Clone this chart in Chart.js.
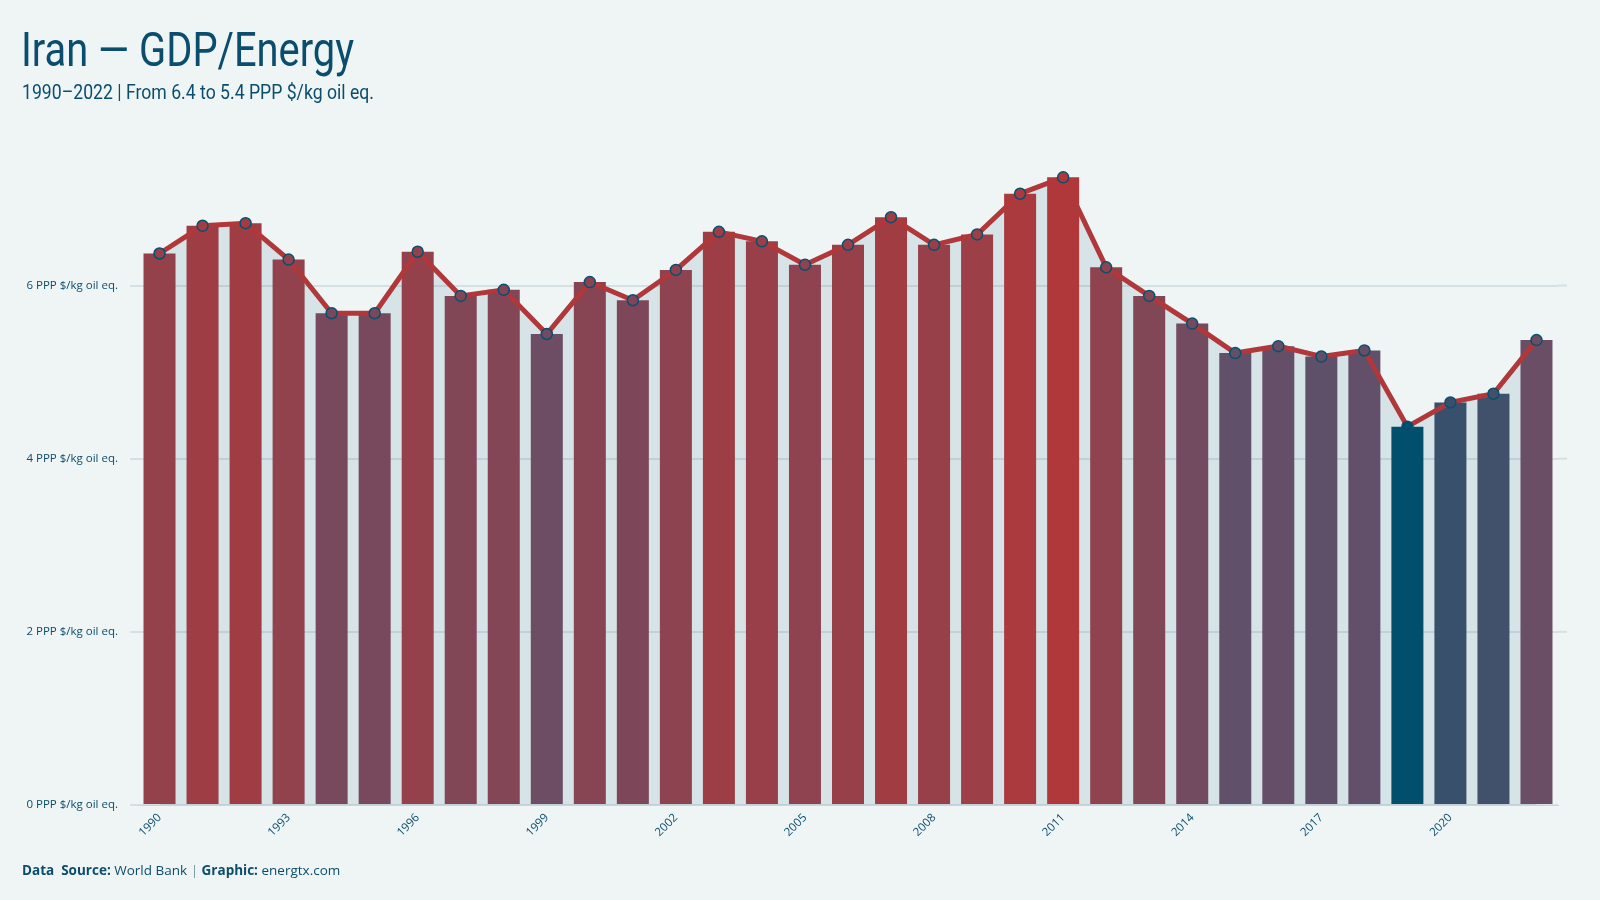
<!DOCTYPE html>
<html>
<head>
<meta charset="utf-8">
<script src="https://cdn.jsdelivr.net/npm/chart.js@4.4.1/dist/chart.umd.min.js"></script>
<style>
  html, body { margin: 0; padding: 0; background: #eff5f5; }
  body { width: 1600px; height: 900px; position: relative; overflow: hidden; }
  #title { position: absolute; left: 21px; top: 26px; font-family: 'Roboto', sans-serif; font-size: 48px; color: #0b4d6c; white-space: nowrap; line-height: 1; transform: scaleX(0.83); transform-origin: 0 0; }
  #subtitle { position: absolute; left: 22px; top: 82px; font-family: 'Roboto', sans-serif; font-size: 21px; color: #0b4d6c; white-space: nowrap; line-height: 1; transform: scaleX(0.84); transform-origin: 0 0; }
  #footer { position: absolute; left: 22px; top: 864px; font-family: 'Open Sans', 'Noto Sans', sans-serif; font-size: 13.5px; color: #0b4d6c; white-space: nowrap; line-height: 1; }
  #footer b { font-weight: 700; }
  #footer .sep { color: #7593a3; }
  #wrap { position: absolute; left: 0; top: 0; width: 1600px; height: 900px; }
</style>
</head>
<body>
<div id="wrap"><canvas id="c" width="1600" height="900"></canvas></div>
<div id="title">Iran — GDP/Energy</div>
<div id="subtitle">1990–2022 | From 6.4 to 5.4 PPP $/kg oil eq.</div>
<div id="footer"><b>Data&nbsp; Source:</b> World Bank <span class="sep">|</span> <b>Graphic:</b> energtx.com</div>
<script>
const years = [1990,1991,1992,1993,1994,1995,1996,1997,1998,1999,2000,2001,2002,2003,2004,2005,2006,2007,2008,2009,2010,2011,2012,2013,2014,2015,2016,2017,2018,2019,2020,2021,2022];
const gdpPerEnergy = [6.37,6.69,6.72,6.30,5.68,5.68,6.39,5.88,5.95,5.44,6.04,5.83,6.18,6.62,6.51,6.24,6.47,6.79,6.47,6.59,7.06,7.25,6.21,5.88,5.56,5.22,5.30,5.18,5.25,4.37,4.65,4.75,5.37];
const yTicks = [0,2,4,6];
const unit = 'PPP $/kg oil eq.';
const labelEvery = 3;

// colour stops (low -> mid -> high)
const lowColor = [2,79,109];
const midColor = [98,80,106];
const highColor = [177,56,58];
const midStop = 0.55;
const vMin = Math.min(...gdpPerEnergy), vMax = Math.max(...gdpPerEnergy);
const mix = (a, b, f) => a.map((x, i) => Math.round(x + (b[i] - x) * f));
const barColors = gdpPerEnergy.map(v => {
  const s = Math.sqrt((v - vMin) / (vMax - vMin));
  const c = s <= midStop ? mix(lowColor, midColor, s / midStop) : mix(midColor, highColor, (s - midStop) / (1 - midStop));
  return `rgb(${c[0]},${c[1]},${c[2]})`;
});

const gridExt = {
  id: 'gridExt',
  beforeDatasetsDraw(chart) {
    const ctx = chart.ctx, y = chart.scales.y, a = chart.chartArea;
    ctx.save();
    ctx.strokeStyle = '#d5e0e4';
    ctx.lineWidth = 2;
    yTicks.forEach(v => {
      if (v === 0) return;
      const py = y.getPixelForValue(v);
      ctx.beginPath();
      ctx.moveTo(a.right, py);
      ctx.lineTo(a.right + 9, py);
      ctx.stroke();
    });
    ctx.restore();
  }
};

new Chart(document.getElementById('c'), {
  data: {
    labels: years,
    datasets: [
      {
        type: 'line',
        data: gdpPerEnergy,
        borderColor: '#b0383a',
        borderWidth: 5,
        fill: 'origin',
        backgroundColor: 'rgba(3,79,110,0.1)',
        pointRadius: 5.5,
        pointBackgroundColor: barColors,
        pointBorderColor: '#0a4f6e',
        pointBorderWidth: 1.5,
        tension: 0,
        order: 0
      },
      {
        type: 'bar',
        data: gdpPerEnergy,
        backgroundColor: barColors,
        borderWidth: 0,
        categoryPercentage: 1,
        barPercentage: 0.744,
        order: 1
      }
    ]
  },
  options: {
    responsive: false,
    animation: false,
    layout: { padding: { left: 0, right: 42, top: 147, bottom: 55 } },
    plugins: {
      legend: { display: false },
      tooltip: { enabled: false },
      filler: { drawTime: 'beforeDatasetsDraw' }
    },
    scales: {
      x: {
        afterFit(s) { s.height = 40; },
        grid: { display: false, drawTicks: false },
        border: { display: true, color: '#c8d5d9', width: 1, dash: [2, 2] },
        ticks: {
          autoSkip: false,
          maxRotation: 45,
          minRotation: 45,
          padding: 6,
          color: '#0b4d6c',
          font: { family: "'Open Sans', 'Noto Sans', sans-serif", size: 11.5 },
          callback(val, i) { return i % labelEvery === 0 ? years[i] : null; }
        }
      },
      y: {
        min: 0,
        max: 7.6,
        afterFit(s) { s.width = 138; },
        afterBuildTicks(s) { s.ticks = yTicks.map(v => ({ value: v })); },
        grid: { color: '#d5e0e4', lineWidth: 2, drawTicks: true, tickLength: 8 },
        border: { display: false },
        ticks: {
          padding: 12,
          color: '#0b4d6c',
          font: { family: "'Open Sans', 'Noto Sans', sans-serif", size: 11.5 },
          callback(v) { return v + ' ' + unit; }
        }
      }
    }
  },
  plugins: [gridExt]
});
</script>
</body>
</html>
